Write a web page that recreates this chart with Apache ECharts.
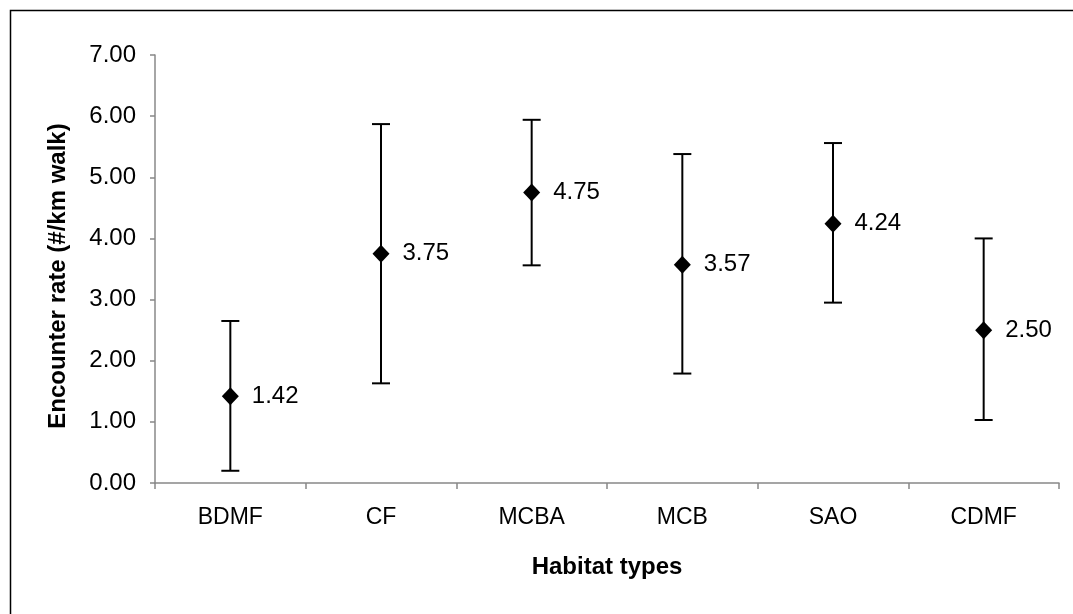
<!DOCTYPE html>
<html>
<head>
<meta charset="utf-8">
<script src="https://cdn.jsdelivr.net/npm/echarts@6/dist/echarts.min.js"></script>
<style>
  html, body { margin: 0; padding: 0; background: #fff; }
  #chart { width: 1073px; height: 614px; }
</style>
</head>
<body>
<div id="chart"></div>
<script>
const categories = ['BDMF', 'CF', 'MCBA', 'MCB', 'SAO', 'CDMF'];
const means = [1.42, 3.75, 4.75, 3.57, 4.24, 2.50];
const lows = [0.20, 1.63, 3.56, 1.79, 2.95, 1.03];
const highs = [2.65, 5.87, 5.94, 5.38, 5.56, 4.00];
const yTicks = [0, 1, 2, 3, 4, 5, 6, 7];

const FONT = '"Liberation Sans", Arial, sans-serif';
const chart = echarts.init(document.getElementById('chart'), null, { renderer: 'canvas' });

const errData = categories.map((c, i) => [i, lows[i], highs[i]]);

chart.setOption({
  animation: false,
  backgroundColor: '#ffffff',
  graphic: [{
    type: 'rect',
    left: 8, top: 8,
    shape: { width: 1100, height: 700 },
    style: { fill: 'none', stroke: '#000', lineWidth: 1.5 },
    silent: true
  }],
  grid: { left: 155, right: 14, top: 55, bottom: 131, containLabel: false },
  xAxis: {
    type: 'category',
    data: categories,
    name: 'Habitat types',
    nameLocation: 'middle',
    nameGap: 72,
    nameTextStyle: { fontFamily: FONT, fontSize: 24, fontWeight: 'bold', color: '#000' },
    axisLine: { lineStyle: { color: '#888', width: 1.5 } },
    axisTick: { show: true, length: 6, lineStyle: { color: '#888', width: 1.5 } },
    axisLabel: { fontFamily: FONT, fontSize: 23, color: '#000', margin: 23 },
    splitLine: { show: false }
  },
  yAxis: {
    type: 'value',
    min: yTicks[0],
    max: yTicks[yTicks.length - 1],
    interval: 1,
    name: 'Encounter rate (#/km walk)',
    nameLocation: 'middle',
    nameGap: 85,
    nameTextStyle: { fontFamily: FONT, fontSize: 24, fontWeight: 'bold', color: '#000', padding: [0, 14, 0, 0] },
    axisLine: { show: true, lineStyle: { color: '#888', width: 1.5 } },
    axisTick: { show: true, length: 5, lineStyle: { color: '#888', width: 1.5 } },
    axisLabel: { fontFamily: FONT, fontSize: 24, color: '#000', margin: 19, formatter: v => v.toFixed(2) },
    splitLine: { show: false }
  },
  series: [
    {
      type: 'custom',
      z: 2,
      data: errData,
      renderItem: function (params, api) {
        const x = api.value(0);
        const lo = api.coord([x, api.value(1)]);
        const hi = api.coord([x, api.value(2)]);
        const half = 9;
        const st = { stroke: '#000', lineWidth: 2 };
        return {
          type: 'group',
          children: [
            { type: 'line', shape: { x1: lo[0], y1: lo[1], x2: hi[0], y2: hi[1] }, style: st },
            { type: 'line', shape: { x1: hi[0] - half, y1: hi[1], x2: hi[0] + half, y2: hi[1] }, style: st },
            { type: 'line', shape: { x1: lo[0] - half, y1: lo[1], x2: lo[0] + half, y2: lo[1] }, style: st }
          ]
        };
      }
    },
    {
      type: 'scatter',
      z: 3,
      data: means,
      symbol: 'diamond',
      symbolSize: [17, 18],
      itemStyle: { color: '#000', opacity: 1 },
      label: {
        show: true,
        position: 'right',
        distance: 13,
        fontFamily: FONT,
        fontSize: 24,
        color: '#000',
        formatter: p => Number(p.value).toFixed(2)
      }
    }
  ]
});
</script>
</body>
</html>
